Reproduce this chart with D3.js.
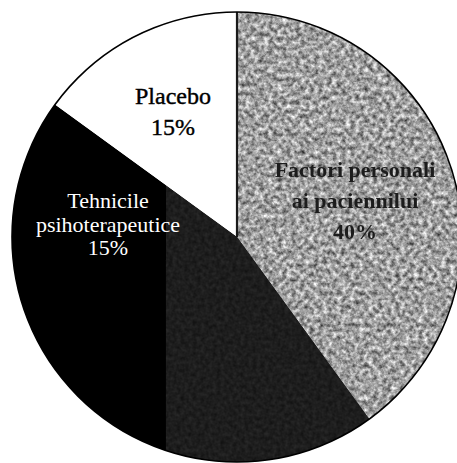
<!DOCTYPE html>
<html>
<head>
<meta charset="utf-8">
<script src="https://cdn.jsdelivr.net/npm/d3@7"></script>
<style>
  html, body { margin: 0; padding: 0; background: #fff; }
  svg { display: block; }
</style>
</head>
<body>
<svg id="chart" width="457" height="463"></svg>
<script>
// Share of therapeutic outcome attributed to each factor (percent)
const categories = ["Factori personali ai paciennilui", "Relația terapeutică", "Tehnicile psihoterapeutice", "Placebo"];
const values = [40, 30, 15, 15];
const labelLines = [
  ["Factori personali", "ai paciennilui", "40%"],
  [],
  ["Tehnicile", "psihoterapeutice", "15%"],
  ["Placebo", "15%"]
];
const fills = ["#a4a4a4", "#1e1e1e", "#000000", "#ffffff"];

const W = 457, H = 463;
const cx = 237, cy = 237, R = 225;

const svg = d3.select("#chart");
const defs = svg.append("defs");

// grainy print texture for the light grey wedge
const grain = defs.append("filter").attr("id", "grain")
  .attr("x", 0).attr("y", 0).attr("width", 1).attr("height", 1)
  .attr("color-interpolation-filters", "sRGB");
grain.append("feTurbulence").attr("type", "fractalNoise")
  .attr("baseFrequency", 0.22).attr("numOctaves", 3).attr("seed", 7).attr("result", "n");
grain.append("feColorMatrix").attr("in", "n").attr("type", "matrix")
  .attr("values", "1.05 0 0 0 0.1  1.05 0 0 0 0.1  1.05 0 0 0 0.1  0 0 0 0 1")
  .attr("result", "g");
grain.append("feGaussianBlur").attr("in", "g").attr("stdDeviation", 0.5).attr("result", "gb");
grain.append("feComposite").attr("in", "gb").attr("in2", "SourceGraphic").attr("operator", "in");

// faint texture for the dark wedge
const grainDark = defs.append("filter").attr("id", "grainDark")
  .attr("x", 0).attr("y", 0).attr("width", 1).attr("height", 1)
  .attr("color-interpolation-filters", "sRGB");
grainDark.append("feTurbulence").attr("type", "fractalNoise")
  .attr("baseFrequency", 0.25).attr("numOctaves", 2).attr("seed", 3).attr("result", "n");
grainDark.append("feColorMatrix").attr("in", "n").attr("type", "matrix")
  .attr("values", "0.12 0 0 0 0.055  0.12 0 0 0 0.055  0.12 0 0 0 0.055  0 0 0 0 1")
  .attr("result", "g");
grainDark.append("feComposite").attr("in", "g").attr("in2", "SourceGraphic").attr("operator", "in");

// slightly soft print edge for the label on the grey wedge
const soft = defs.append("filter").attr("id", "soft");
soft.append("feGaussianBlur").attr("stdDeviation", 0.45);

const pie = d3.pie().sort(null).value(d => d)
  .startAngle(0).endAngle(2 * Math.PI);
const arcs = pie(values);
const arc = d3.arc().innerRadius(0).outerRadius(R);

const g = svg.append("g").attr("transform", `translate(${cx},${cy})`);

// wedges
g.selectAll("path.slice")
  .data(arcs)
  .join("path")
  .attr("class", "slice")
  .attr("d", arc)
  .attr("fill", (d, i) => fills[i])
  .attr("filter", (d, i) => i === 0 ? "url(#grain)" : null);

// the two dark wedges share a printed tone: solid black on the left, dark grey on the right
const clip = defs.append("clipPath").attr("id", "darkClip");
clip.append("path").attr("d", arc(arcs[1]));
clip.append("path").attr("d", arc(arcs[2]));
const split = -0.316 * R;
const dark = g.append("g").attr("clip-path", "url(#darkClip)");
dark.append("rect").attr("x", split).attr("y", -R).attr("width", R - split).attr("height", 2 * R)
  .attr("fill", fills[1]).attr("filter", "url(#grainDark)");
dark.append("rect").attr("x", -R).attr("y", -R).attr("width", R + split).attr("height", 2 * R)
  .attr("fill", fills[2]);

// divider between Placebo and the grey wedge
g.append("line")
  .attr("x1", 0).attr("y1", 0).attr("x2", 0).attr("y2", -R)
  .attr("stroke", "#1a1a1a").attr("stroke-width", 2.2);

// outline
g.append("circle").attr("r", R).attr("fill", "none")
  .attr("stroke", "#000").attr("stroke-width", 1.6);

// labels
const labelStyle = [
  { x: 118, y: -60, dy: 31, size: 22, weight: "bold", color: "#1c1c1c", stroke: 0, filter: "url(#soft)" },
  null,
  { x: -129, y: -29, dy: 23.5, size: 22, weight: "normal", color: "#ffffff", stroke: 0, filter: null },
  { x: -64, y: -133, dy: 31, size: 24, weight: "normal", color: "#000000", stroke: 0.4, filter: null }
];

labelLines.forEach((lines, i) => {
  const s = labelStyle[i];
  if (!s || !lines.length) return;
  const t = g.append("text")
    .attr("text-anchor", "middle")
    .style("font-family", '"Liberation Serif", "Times New Roman", serif')
    .style("font-size", s.size + "px")
    .style("font-weight", s.weight)
    .attr("fill", s.color)
    .attr("stroke", s.stroke ? s.color : null)
    .attr("stroke-width", s.stroke || null)
    .attr("filter", s.filter);
  lines.forEach((line, k) => {
    t.append("tspan").attr("x", s.x).attr("y", s.y + k * s.dy).text(line);
  });
});
</script>
</body>
</html>
